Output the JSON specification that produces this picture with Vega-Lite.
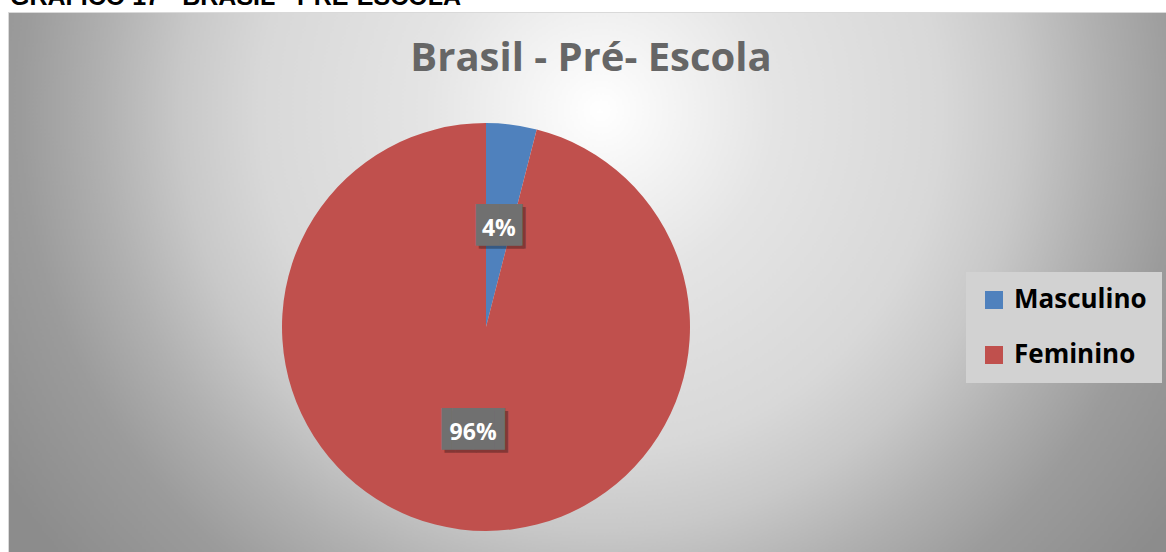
{
  "$schema": "https://vega.github.io/schema/vega-lite/v6.json",
  "autosize": {"type": "none"},
  "padding": {"left": 8, "top": 12, "right": 0, "bottom": 0},
  "background": "#ffffff",
  "params": [
    {"name": "width", "value": 1158},
    {"name": "height", "value": 540}
  ],
  "title": {"text": "GRÁFICO 17 - BRASIL - PRÉ-ESCOLA", "anchor": "start", "frame": "group", "font": "Liberation Sans", "fontSize": 25, "fontWeight": "bold", "color": "#000000", "baseline": "alphabetic", "offset": -18, "dx": 2},
  "datasets": {
    "pre": [
      {"genero": "Masculino", "participacao": 0.04},
      {"genero": "Feminino", "participacao": 0.96}
    ]
  },
  "vconcat": [
    {
      "width": 1158,
      "height": 540,
      "view": {
        "stroke": "#d9d9d9",
        "strokeWidth": 1,
        "fill": {
          "gradient": "radial",
          "x1": 0.511, "y1": 0.3515, "r1": 0,
          "x2": 0.511, "y2": 0.3515, "r2": 0.6045,
          "stops": [
            {"offset": 0, "color": "#ffffff"},
            {"offset": 0.12, "color": "#f2f2f2"},
            {"offset": 0.25, "color": "#e4e4e4"},
            {"offset": 0.486, "color": "#d8d8d8"},
            {"offset": 0.6, "color": "#c8c8c8"},
            {"offset": 0.714, "color": "#b0b0b0"},
            {"offset": 0.829, "color": "#9b9b9b"},
            {"offset": 1, "color": "#8c8c8c"}
          ]
        }
      },
      "title": {"text": "Brasil - Pré- Escola", "anchor": "middle", "font": "Open Sans", "fontSize": 40, "fontWeight": "bold", "color": "#666666", "baseline": "alphabetic", "offset": -61, "dx": 4, "dy": 38},
      "data": {"name": "pre"},
      "encoding": {
        "theta": {"field": "participacao", "type": "quantitative", "stack": true},
        "order": {"field": "genero", "sort": "descending"}
      },
      "layer": [
        {
          "mark": {"type": "arc", "outerRadius": 204, "x": 478, "y": 315},
          "encoding": {
            "color": {
              "field": "genero",
              "type": "nominal",
              "scale": {"domain": ["Masculino", "Feminino"], "range": ["#4f81bd", "#c0504d"]},
              "legend": {
                "orient": "none",
                "legendX": 958,
                "legendY": 260,
                "title": null,
                "direction": "vertical",
                "fillColor": "#d2d2d2",
                "padding": 15,
                "symbolType": "square",
                "symbolSize": 324,
                "symbolStrokeWidth": 0,
                "symbolOpacity": 1,
                "labelFont": "Open Sans",
                "labelFontSize": 26,
                "labelFontWeight": "bold",
                "labelColor": "#000000",
                "labelOffset": 7,
                "labelLimit": 300,
                "rowPadding": 29
              }
            }
          }
        },
        {
          "mark": {"type": "text", "radius": 103, "x": 478, "y": 315, "dx": 3, "dy": 4, "font": "DejaVu Sans Mono", "fontSize": 35, "color": "#000000", "opacity": 0.3, "align": "center", "baseline": "middle"},
          "encoding": {
            "text": {"condition": {"test": "datum.genero === 'Feminino'", "value": "▐██▌"}, "value": "▕██▏"}
          }
        },
        {
          "mark": {"type": "text", "radius": 103, "x": 478, "y": 315, "dy": 1, "font": "DejaVu Sans Mono", "fontSize": 35, "color": "#707070", "align": "center", "baseline": "middle"},
          "encoding": {
            "text": {"condition": {"test": "datum.genero === 'Feminino'", "value": "▐██▌"}, "value": "▕██▏"}
          }
        },
        {
          "mark": {"type": "text", "radius": 103, "x": 478, "y": 315, "dy": 4, "font": "Open Sans", "fontSize": 23, "fontWeight": "bold", "color": "#ffffff", "align": "center", "baseline": "middle"},
          "encoding": {
            "text": {"field": "participacao", "type": "quantitative", "format": ".0%"}
          }
        }
      ]
    }
  ]
}
